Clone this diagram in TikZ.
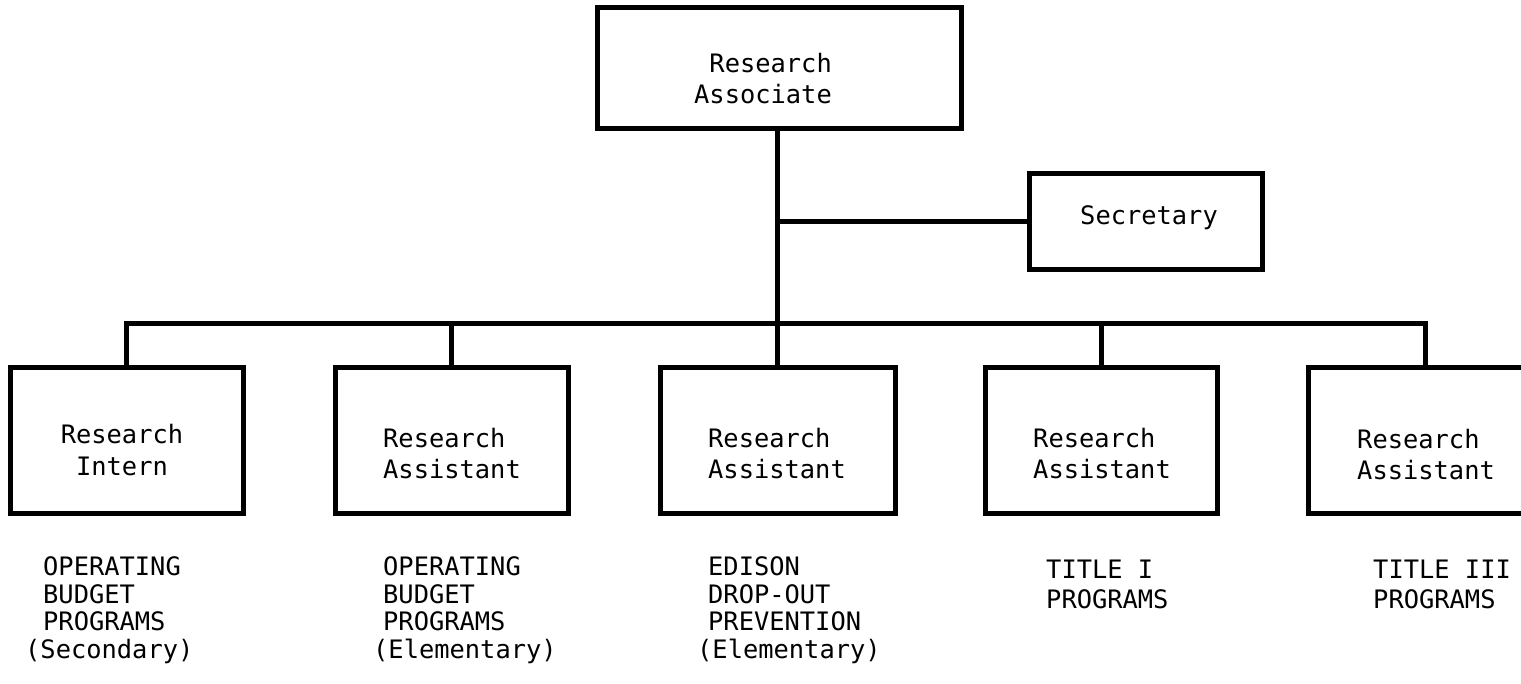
\documentclass[tikz,border=0pt]{standalone}
\usepackage{fontspec}
\newfontfamily\tw{DejaVu Sans Mono}
\begin{document}
\begin{tikzpicture}[x=1pt,y=-1pt,
  box/.style={draw=black, line width=5pt, rectangle, inner sep=0pt},
  wire/.style={draw=black, line width=5pt},
  boxtxt/.style={inner sep=0pt, font=\tw\fontsize{25.4}{31}\selectfont},
  progtxt/.style={inner sep=0pt, align=left, anchor=north west, font=\tw\fontsize{25.4}{27.5}\selectfont},
  titletxt/.style={inner sep=0pt, align=left, anchor=north west, font=\tw\fontsize{25.4}{30}\selectfont}]
\useasboundingbox (0,0) rectangle (1521,683);
\clip (0,0) rectangle (1521,683);
% boxes
\node[box, minimum width=364pt, minimum height=121pt] (ra) at (779,67.5) {};
\node[box, minimum width=233pt, minimum height=96pt] (sec) at (1145.5,221) {};
\node[box, minimum width=233pt, minimum height=146pt] (b1) at (126.5,440) {};
\node[box, minimum width=233pt, minimum height=146pt] (b2) at (451.5,440) {};
\node[box, minimum width=235pt, minimum height=146pt] (b3) at (777.5,440) {};
\node[box, minimum width=232pt, minimum height=146pt] (b4) at (1101,440) {};
\node[box, minimum width=234pt, minimum height=146pt] (b5) at (1425,440) {};
\coordinate (bus) at (777.5,323);
% connectors
\draw[wire] (ra.south -| b3.north) -- (b3.north);
\draw[wire] (sec.west) -- (sec.west -| b3.north);
\draw[wire] (b1.north) |- (b5.north |- bus) -- (b5.north);
\draw[wire] (b2.north) -- (b2.north |- bus);
\draw[wire] (b4.north) -- (b4.north |- bus);
% box texts
\node[boxtxt, align=right, anchor=north east] (tra) at (832,52.7) {Research\\Associate};
\node[boxtxt, anchor=base west] (tsec) at (1080,224) {Secretary};
\node[boxtxt, align=center, anchor=north, font=\tw\fontsize{25.4}{32}\selectfont] (t1) at (122,423.7) {Research\\Intern};
\node[boxtxt, align=left, anchor=north west] (t2) at (383,427.7) {Research\\Assistant};
\node[boxtxt, align=left, anchor=north west] (t3) at (708,427.7) {Research\\Assistant};
\node[boxtxt, align=left, anchor=north west] (t4) at (1033,427.7) {Research\\Assistant};
\node[boxtxt, align=left, anchor=north west] (t5) at (1357,429) {Research\\Assistant};
% programme texts
\node[progtxt] (p1) at (25,556.5) {\hspace*{18pt}OPERATING\\\hspace*{18pt}BUDGET\\\hspace*{18pt}PROGRAMS\\(Secondary)};
\node[progtxt] (p2) at (373,556.5) {\hspace*{10pt}OPERATING\\\hspace*{10pt}BUDGET\\\hspace*{10pt}PROGRAMS\\(Elementary)};
\node[progtxt] (p3) at (697,556.5) {\hspace*{11pt}EDISON\\\hspace*{11pt}DROP-OUT\\\hspace*{11pt}PREVENTION\\(Elementary)};
\node[titletxt] (p4) at (1046,559.5) {TITLE I\\PROGRAMS};
\node[titletxt] (p5) at (1373,559.5) {TITLE III\\PROGRAMS};
\end{tikzpicture}
\end{document}
